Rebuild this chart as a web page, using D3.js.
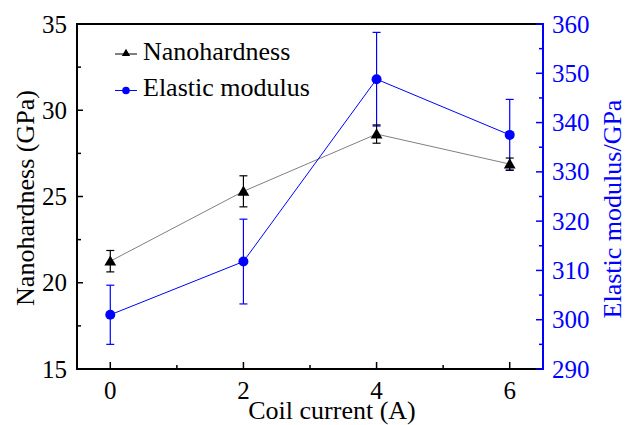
<!DOCTYPE html>
<html><head><meta charset="utf-8">
<script src="https://cdn.jsdelivr.net/npm/d3@7"></script>
<style>body{margin:0;background:#fff}svg{display:block}text{font-family:"Liberation Serif","Times New Roman",serif}</style>
</head><body><svg id="c" width="632" height="425"></svg>
<script>
const currents = [0, 2, 4, 6];
const hardness = [21.25, 25.3, 28.62, 26.88];
const hardnessErr = [0.62, 0.9, 0.53, 0.35];
const modulus = [301.0, 311.8, 348.8, 337.5];
const modulusErr = [6.0, 8.6, 9.5, 7.2];
const xTicks = [0, 2, 4, 6];
const leftTicks = [15, 20, 25, 30, 35];
const rightTicks = [290, 300, 310, 320, 330, 340, 350, 360];

const svg = d3.select("#c");
const L = 77, R = 543, T = 24, B = 369;
const blue = "#0000ff";
const x = d3.scaleLinear().domain([-0.5, 6.5]).range([L, R]);
const yL = d3.scaleLinear().domain([15, 35]).range([B, T]);
const yR = d3.scaleLinear().domain([290, 360]).range([B, T]);
const tfs = 25, lfs = 26;

// frame top
svg.append("line").attr("x1", L).attr("x2", R).attr("y1", T).attr("y2", T).attr("stroke", "#000").attr("stroke-width", 2);

// bottom axis
const gx = svg.append("g").attr("transform", `translate(0,${B})`);
d3.range(0, 7, 1).forEach(v => {
  const maj = v % 2 === 0;
  gx.append("line").attr("x1", x(v)).attr("x2", x(v)).attr("y1", 0).attr("y2", maj ? -7 : -4).attr("stroke", "#000").attr("stroke-width", 1.5);
});
x.ticks && xTicks.forEach(v => gx.append("text").attr("x", x(v)).attr("y", 29.5).attr("text-anchor", "middle").attr("font-size", tfs).attr("fill", "#000").text(v));
gx.append("line").attr("x1", L - 1).attr("x2", R).attr("y1", 0).attr("y2", 0).attr("stroke", "#000").attr("stroke-width", 2);

// left axis
const gl = svg.append("g").attr("transform", `translate(${L},0)`);
d3.range(15, 35.01, 2.5).forEach(v => {
  const maj = v % 5 === 0;
  gl.append("line").attr("x1", 0).attr("x2", maj ? 6 : 4).attr("y1", yL(v)).attr("y2", yL(v)).attr("stroke", "#000").attr("stroke-width", 1.5);
});
leftTicks.forEach(v => gl.append("text").attr("x", -10).attr("y", yL(v)).attr("dy", "0.34em").attr("text-anchor", "end").attr("font-size", tfs).attr("fill", "#000").text(v));
gl.append("line").attr("x1", 0).attr("x2", 0).attr("y1", T - 1).attr("y2", B + 1).attr("stroke", "#000").attr("stroke-width", 2);

// right axis
const gr = svg.append("g").attr("transform", `translate(${R},0)`);
d3.range(290, 360.01, 5).forEach(v => {
  const maj = v % 10 === 0;
  gr.append("line").attr("x1", 0).attr("x2", maj ? -7 : -4).attr("y1", yR(v)).attr("y2", yR(v)).attr("stroke", blue).attr("stroke-width", 1.5);
});
rightTicks.forEach(v => gr.append("text").attr("x", 9).attr("y", yR(v)).attr("dy", "0.34em").attr("text-anchor", "start").attr("font-size", tfs).attr("fill", blue).text(v));
gr.append("line").attr("x1", 0).attr("x2", 0).attr("y1", T - 1).attr("y2", B + 1).attr("stroke", blue).attr("stroke-width", 2);

// axis titles
svg.append("text").attr("x", 332).attr("y", 419).attr("text-anchor", "middle").attr("font-size", lfs).attr("fill", "#000").text("Coil current (A)");
svg.append("text").attr("transform", `translate(34,198) rotate(-90)`).attr("text-anchor", "middle").attr("font-size", lfs).attr("fill", "#000").text("Nanohardness (GPa)");
svg.append("text").attr("transform", `translate(621,209) rotate(-90)`).attr("text-anchor", "middle").attr("font-size", lfs).attr("fill", blue).text("Elastic modulus/GPa");

// lines
const lineH = d3.line().x((d, i) => x(currents[i])).y(d => yL(d));
const lineM = d3.line().x((d, i) => x(currents[i])).y(d => yR(d));
svg.append("path").attr("d", lineH(hardness)).attr("fill", "none").attr("stroke", "#808080").attr("stroke-width", 1);
svg.append("path").attr("d", lineM(modulus)).attr("fill", "none").attr("stroke", blue).attr("stroke-width", 1);

// error bars
function errBars(vals, errs, y, color) {
  const g = svg.append("g").attr("stroke", color).attr("stroke-width", 1.2);
  vals.forEach((v, i) => {
    const cx = x(currents[i]);
    g.append("line").attr("x1", cx).attr("x2", cx).attr("y1", y(v - errs[i])).attr("y2", y(v + errs[i]));
    [v - errs[i], v + errs[i]].forEach(e => g.append("line").attr("x1", cx - 4).attr("x2", cx + 4).attr("y1", y(e)).attr("y2", y(e)));
  });
}
errBars(modulus, modulusErr, yR, blue);
errBars(hardness, hardnessErr, yL, "#000");

// markers
const tri = d3.symbol().type(d3.symbolTriangle).size(60);
const triSmall = d3.symbol().type(d3.symbolTriangle).size(30);
svg.selectAll(".mm").data(modulus).enter().append("circle").attr("cx", (d, i) => x(currents[i])).attr("cy", d => yR(d)).attr("r", 5).attr("fill", blue);
svg.selectAll(".mh").data(hardness).enter().append("path").attr("d", tri).attr("transform", (d, i) => `translate(${x(currents[i])},${yL(d) + 1})`).attr("fill", "#000");

// legend
const lg = svg.append("g");
lg.append("line").attr("x1", 115).attr("x2", 137).attr("y1", 54).attr("y2", 54).attr("stroke", "#000").attr("stroke-width", 1);
lg.append("path").attr("d", triSmall).attr("transform", "translate(126,53.5)").attr("fill", "#000");
lg.append("text").attr("x", 143).attr("y", 59.5).attr("font-size", lfs).attr("fill", "#000").text("Nanohardness");
lg.append("line").attr("x1", 115).attr("x2", 137).attr("y1", 90.5).attr("y2", 90.5).attr("stroke", blue).attr("stroke-width", 1);
lg.append("circle").attr("cx", 126).attr("cy", 90.5).attr("r", 3.8).attr("fill", blue);
lg.append("text").attr("x", 143).attr("y", 96).attr("font-size", lfs).attr("fill", "#000").text("Elastic modulus");
</script></body></html>
